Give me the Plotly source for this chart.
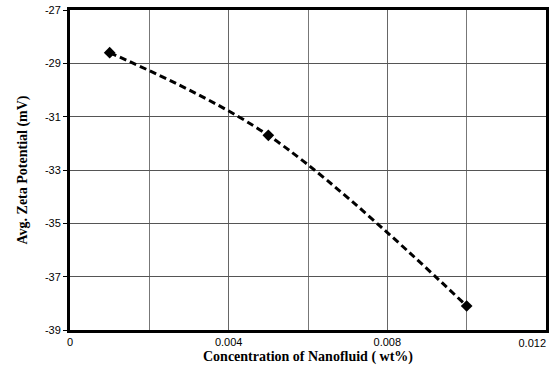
import plotly.graph_objects as go

concentration = [0.001, 0.005, 0.010]
zeta = [-28.6, -31.7, -38.1]
x_ticks = [0, 0.004, 0.008]
x_tick_labels = ["0", "0.004", "0.008"]
x_end_tick = [0.012]
x_end_label = ["0.012"]
y_ticks = [-39, -37, -35, -33, -31, -29, -27]
y_tick_labels = ["-39", "-37", "-35", "-33", "-31", "-29", "-27"]

fig = go.Figure()
fig.add_trace(go.Scatter(
    x=concentration, y=zeta, mode="lines+markers",
    line=dict(color="black", width=3, dash="7px,4px", shape="spline"),
    marker=dict(symbol="diamond", size=9, color="black"),
    showlegend=False, cliponaxis=False,
))
# invisible companion trace so the secondary axis (end label) is rendered
fig.add_trace(go.Scatter(
    x=concentration, y=zeta, xaxis="x2", yaxis="y", mode="markers",
    marker=dict(opacity=0), hoverinfo="skip", showlegend=False,
))

fig.update_layout(
    width=558, height=375,
    margin=dict(l=70, r=12, t=10, b=45),
    paper_bgcolor="white", plot_bgcolor="white",
    font=dict(family="Liberation Sans", size=11, color="black"),
    xaxis=dict(
        range=[0, 0.012], tickvals=x_ticks, ticktext=x_tick_labels,
        automargin=False,
        showgrid=True, gridcolor="#666", gridwidth=1,
        minor=dict(dtick=0.002, showgrid=True, gridcolor="#777", gridwidth=1),
        showline=True, linecolor="black", linewidth=3, mirror=True,
        ticks="", zeroline=False,
        title=dict(text="<b>Concentration of Nanofluid ( wt%)</b>",
                   font=dict(family="Liberation Serif", size=14, color="black"),
                   standoff=4),
    ),
    xaxis2=dict(
        overlaying="x", anchor="y", side="bottom", range=[0, 0.012],
        tickvals=x_end_tick, ticktext=x_end_label,
        ticklabelposition="outside left", ticklabeloverflow="allow",
        ticklabelstandoff=5,
        automargin=False, showgrid=False, showline=False, zeroline=False,
        ticks="", tickfont=dict(family="Liberation Sans", size=11, color="black"),
    ),
    yaxis=dict(
        range=[-39, -27], tickvals=y_ticks, ticktext=y_tick_labels,
        automargin=False,
        showgrid=True, gridcolor="#555", gridwidth=1,
        showline=True, linecolor="black", linewidth=3, mirror=True,
        ticks="outside", ticklen=4, tickcolor="black", zeroline=False,
        title=dict(text="<b>Avg. Zeta Potential (mV)</b>",
                   font=dict(family="Liberation Serif", size=14, color="black"),
                   standoff=14),
    ),
)

fig.write_html("out.html")
